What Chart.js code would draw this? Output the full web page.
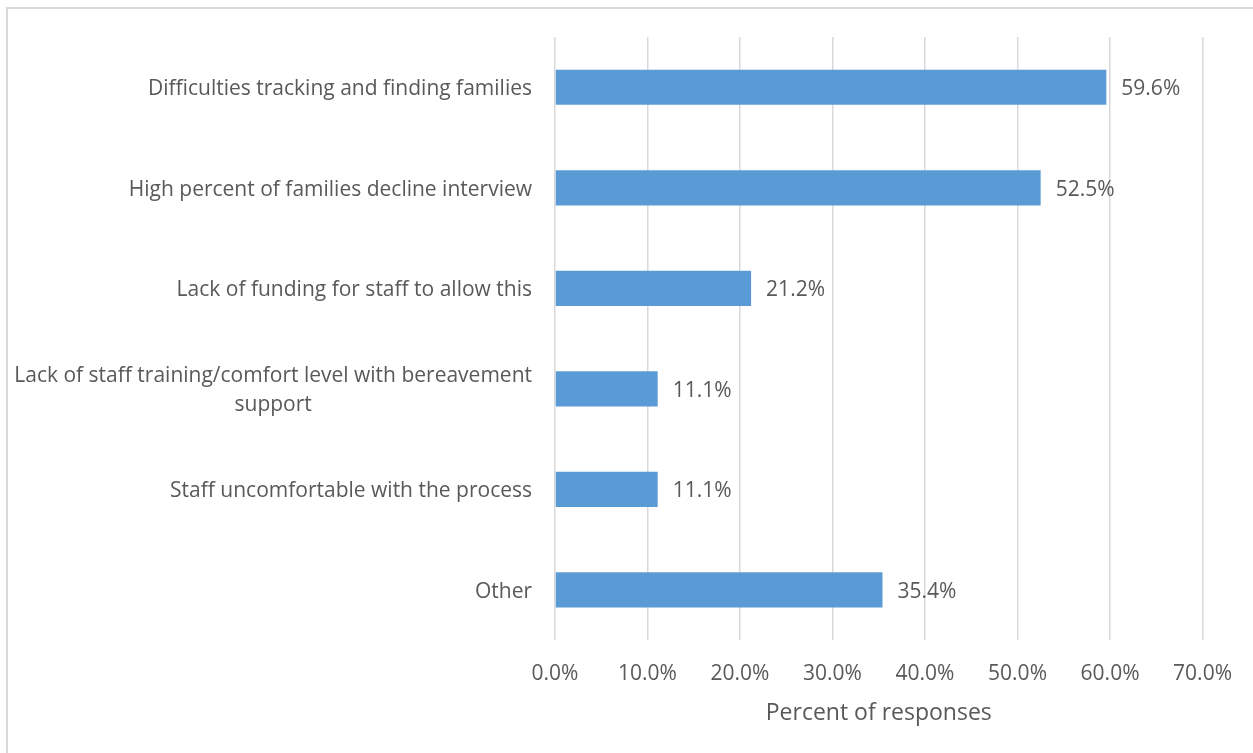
<!DOCTYPE html>
<html>
<head>
<meta charset="utf-8">
<script src="https://cdn.jsdelivr.net/npm/chart.js@4/dist/chart.umd.min.js"></script>
<style>
  html, body { margin: 0; padding: 0; background: #fff; overflow: hidden; }
  #wrap { position: relative; width: 1253px; height: 753px; }
  #frame { position: absolute; left: 6px; top: 7px; width: 1300px; height: 800px;
           border-left: 2px solid #d9d9d9; border-top: 2px solid #d9d9d9; pointer-events: none; }
  canvas { position: absolute; left: 0; top: 0; }
</style>
</head>
<body>
<div id="wrap">
  <div id="frame"></div>
  <canvas id="c" width="1253" height="753"></canvas>
</div>
<script>
const categories = [
  'Difficulties tracking and finding families',
  'High percent of families decline interview',
  'Lack of funding for staff to allow this',
  ['Lack of staff training/comfort level with bereavement', 'support'],
  'Staff uncomfortable with the process',
  'Other'
];
const percentValues = [59.6, 52.5, 21.2, 11.1, 11.1, 35.4];
const xTickMax = 70;
const xTickStep = 10;
const axisTitle = 'Percent of responses';

const FONT = "'Open Sans', 'Noto Sans', sans-serif";
const TEXT = '#595959';

// Category labels: right-aligned block, lines centered within the block
const categoryLabels = {
  id: 'categoryLabels',
  afterDraw(chart) {
    const ctx = chart.ctx;
    const y = chart.scales.y;
    const rightEdge = y.right - 23;
    const lh = 29;
    ctx.save();
    ctx.font = '21px ' + FONT;
    ctx.fillStyle = TEXT;
    ctx.textBaseline = 'middle';
    ctx.textAlign = 'center';
    categories.forEach((cat, i) => {
      const lines = Array.isArray(cat) ? cat : [cat];
      const w = Math.max(...lines.map(l => ctx.measureText(l).width));
      const cx = rightEdge - w / 2;
      const cy = y.getPixelForValue(i) + 2;
      const y0 = cy - (lines.length - 1) * lh / 2;
      lines.forEach((l, k) => ctx.fillText(l, cx, y0 + k * lh));
    });
    ctx.restore();
  }
};

// Value labels just past each bar end
const valueLabels = {
  id: 'valueLabels',
  afterDatasetsDraw(chart) {
    const ctx = chart.ctx;
    const meta = chart.getDatasetMeta(0);
    ctx.save();
    ctx.font = '21px ' + FONT;
    ctx.fillStyle = TEXT;
    ctx.textBaseline = 'middle';
    ctx.textAlign = 'left';
    meta.data.forEach((bar, i) => {
      ctx.fillText(percentValues[i].toFixed(1) + '%', bar.x + 15, bar.y + 2);
    });
    ctx.restore();
  }
};

new Chart(document.getElementById('c'), {
  type: 'bar',
  data: {
    labels: categories,
    datasets: [{
      data: percentValues,
      backgroundColor: '#5b9bd5',
      borderWidth: 0,
      categoryPercentage: 1,
      barPercentage: 0.35
    }]
  },
  options: {
    indexAxis: 'y',
    responsive: false,
    animation: false,
    layout: { padding: { top: 37, right: 50, bottom: 26, left: 0 } },
    plugins: { legend: { display: false }, tooltip: { enabled: false } },
    scales: {
      x: {
        min: 0,
        max: xTickMax,
        ticks: {
          stepSize: xTickStep,
          padding: 21,
          color: TEXT,
          font: { family: FONT, size: 21 },
          callback: v => Number(v).toFixed(1) + '%'
        },
        grid: { color: '#d9d9d9', lineWidth: 1.5, drawTicks: false },
        border: { display: false },
        title: {
          display: true,
          text: axisTitle,
          color: TEXT,
          font: { family: FONT, size: 23 },
          padding: { top: -8, bottom: 0 }
        }
      },
      y: {
        ticks: { display: false },
        grid: { display: false, drawTicks: false },
        border: { display: false },
        afterFit(scale) { scale.width = 555; }
      }
    }
  },
  plugins: [categoryLabels, valueLabels]
});
</script>
</body>
</html>
